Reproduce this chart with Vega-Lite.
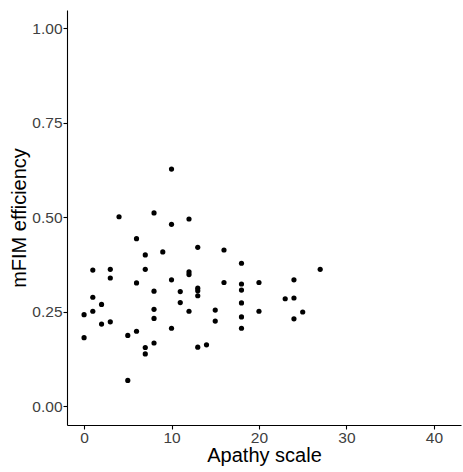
{
  "$schema": "https://vega.github.io/schema/vega-lite/v6.json",
  "width": 394,
  "height": 415,
  "autosize": {"type": "none"},
  "padding": {"left": 67, "top": 10, "right": 2, "bottom": 47},
  "background": "white",
  "config": {
    "view": {"stroke": null},
    "font": "Liberation Sans",
    "axis": {
      "grid": false,
      "domainColor": "black",
      "domainWidth": 1.1,
      "tickColor": "black",
      "tickSize": 4,
      "tickWidth": 1.1,
      "labelColor": "#404040",
      "labelFont": "Liberation Sans",
      "labelFontSize": 15.5,
      "titleFont": "Liberation Sans",
      "titleFontSize": 20,
      "titleFontWeight": "normal",
      "titleColor": "black",
      "labelPadding": 1
    }
  },
  "data": {
    "values": [
      {"apathy": 0, "mfim": 0.242},
      {"apathy": 0, "mfim": 0.181},
      {"apathy": 1, "mfim": 0.36},
      {"apathy": 1, "mfim": 0.288},
      {"apathy": 1, "mfim": 0.251},
      {"apathy": 2, "mfim": 0.269},
      {"apathy": 2, "mfim": 0.217},
      {"apathy": 3, "mfim": 0.362},
      {"apathy": 3, "mfim": 0.339},
      {"apathy": 3, "mfim": 0.223},
      {"apathy": 4, "mfim": 0.501},
      {"apathy": 5, "mfim": 0.187},
      {"apathy": 5, "mfim": 0.068},
      {"apathy": 6, "mfim": 0.443},
      {"apathy": 6, "mfim": 0.326},
      {"apathy": 6, "mfim": 0.198},
      {"apathy": 7, "mfim": 0.4},
      {"apathy": 7, "mfim": 0.362},
      {"apathy": 7, "mfim": 0.155},
      {"apathy": 7, "mfim": 0.138},
      {"apathy": 8, "mfim": 0.511},
      {"apathy": 8, "mfim": 0.304},
      {"apathy": 8, "mfim": 0.256},
      {"apathy": 8, "mfim": 0.232},
      {"apathy": 8, "mfim": 0.167},
      {"apathy": 9, "mfim": 0.408},
      {"apathy": 10, "mfim": 0.627},
      {"apathy": 10, "mfim": 0.481},
      {"apathy": 10, "mfim": 0.334},
      {"apathy": 10, "mfim": 0.206},
      {"apathy": 11, "mfim": 0.303},
      {"apathy": 11, "mfim": 0.274},
      {"apathy": 12, "mfim": 0.495},
      {"apathy": 12, "mfim": 0.355},
      {"apathy": 12, "mfim": 0.348},
      {"apathy": 12, "mfim": 0.251},
      {"apathy": 13, "mfim": 0.42},
      {"apathy": 13, "mfim": 0.312},
      {"apathy": 13, "mfim": 0.305},
      {"apathy": 13, "mfim": 0.292},
      {"apathy": 13, "mfim": 0.156},
      {"apathy": 14, "mfim": 0.162},
      {"apathy": 15, "mfim": 0.254},
      {"apathy": 15, "mfim": 0.225},
      {"apathy": 16, "mfim": 0.413},
      {"apathy": 16, "mfim": 0.327},
      {"apathy": 18, "mfim": 0.378},
      {"apathy": 18, "mfim": 0.323},
      {"apathy": 18, "mfim": 0.307},
      {"apathy": 18, "mfim": 0.273},
      {"apathy": 18, "mfim": 0.236},
      {"apathy": 18, "mfim": 0.206},
      {"apathy": 20, "mfim": 0.327},
      {"apathy": 20, "mfim": 0.251},
      {"apathy": 23, "mfim": 0.284},
      {"apathy": 24, "mfim": 0.334},
      {"apathy": 24, "mfim": 0.286},
      {"apathy": 24, "mfim": 0.231},
      {"apathy": 25, "mfim": 0.249},
      {"apathy": 27, "mfim": 0.362}
    ]
  },
  "mark": {"type": "circle", "color": "black", "opacity": 1, "size": 27},
  "encoding": {
    "x": {
      "field": "apathy",
      "type": "quantitative",
      "title": "Apathy scale",
      "scale": {"domain": [-1.95, 43.1], "nice": false, "zero": false},
      "axis": {"values": [0, 10, 20, 30, 40], "titlePadding": 0}
    },
    "y": {
      "field": "mfim",
      "type": "quantitative",
      "title": "mFIM efficiency",
      "scale": {"domain": [-0.05, 1.048], "nice": false, "zero": false},
      "axis": {"values": [0, 0.25, 0.5, 0.75, 1], "format": ".2f", "titlePadding": 2}
    }
  }
}
